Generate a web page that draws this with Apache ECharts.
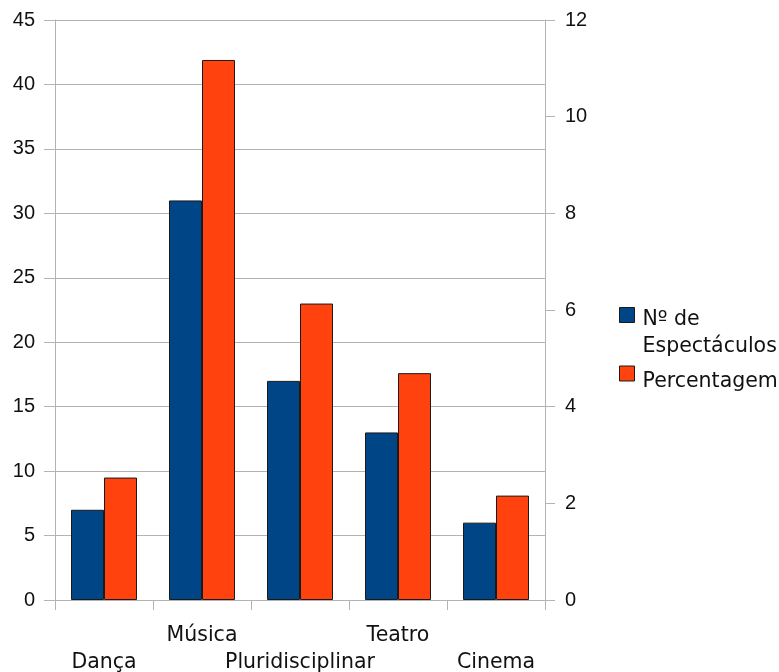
<!DOCTYPE html>
<html>
<head>
<meta charset="utf-8">
<script src="https://cdn.jsdelivr.net/npm/echarts@6/dist/echarts.min.js"></script>
<style>
  html, body { margin: 0; padding: 0; background: #fff; }
  #chart { width: 779px; height: 672px; }
</style>
</head>
<body>
<div id="chart"></div>
<script>
// Spectacles by genre: count and share of total
const categories = ['Dança', 'Música', 'Pluridisciplinar', 'Teatro', 'Cinema'];
const espectaculos = [7, 31, 17, 13, 6];
const percentagem = [9.5, 41.9, 23.0, 17.6, 8.1];
const leftTicks = { min: 0, max: 45, interval: 5 };
const rightTicks = { min: 0, max: 12, interval: 2 };
const seriesNames = ['Nº de Espectáculos', 'Percentagem'];

const GRAY = '#b3b3b3';
const NUM_FONT = '"Liberation Sans", Arial, sans-serif';
const TXT_FONT = '"DejaVu Sans", sans-serif';

const chart = echarts.init(document.getElementById('chart'), null, { renderer: 'canvas' });

// Legend entries: a blank spacer line on top lets the swatch sit beside the first text line
function legendLabel(name) {
  if (name === seriesNames[0]) {
    return '{s1| }\n{t|Nº de}\n{t|Espectáculos}';
  }
  return '{s2| }\n{t|' + name + '}';
}

chart.setOption({
  animation: false,
  grid: { left: 55, right: 234, top: 20, bottom: 72, containLabel: false, outerBoundsMode: 'none' },
  legend: {
    orient: 'vertical',
    left: 614,
    top: 278,
    itemWidth: 15,
    itemHeight: 15,
    itemGap: -2,
    icon: 'rect',
    data: seriesNames,
    itemStyle: { borderColor: '#1a1a1a', borderWidth: 1 },
    formatter: legendLabel,
    textStyle: {
      fontFamily: TXT_FONT,
      fontSize: 20.5,
      color: '#111',
      rich: {
        t: { fontFamily: TXT_FONT, fontSize: 20.5, color: '#111', lineHeight: 27, padding: [0, 0, 0, 3] },
        s1: { fontSize: 10, lineHeight: 36 },
        s2: { fontSize: 10, lineHeight: 16 }
      }
    }
  },
  xAxis: {
    type: 'category',
    data: categories,
    boundaryGap: true,
    axisLine: { show: true, lineStyle: { color: GRAY, width: 1 } },
    axisTick: { show: true, length: 10, lineStyle: { color: GRAY } },
    axisLabel: {
      interval: 0,
      margin: 22,
      fontFamily: TXT_FONT,
      fontSize: 20.5,
      color: '#111',
      lineHeight: 27,
      verticalAlign: 'top',
      formatter: function (value, index) {
        return index % 2 === 0 ? '\n' + value : value;
      }
    },
    splitLine: { show: false }
  },
  yAxis: [
    {
      type: 'value',
      position: 'left',
      min: leftTicks.min,
      max: leftTicks.max,
      interval: leftTicks.interval,
      axisLine: { show: true, lineStyle: { color: GRAY, width: 1 } },
      axisTick: { show: true, length: 11, lineStyle: { color: GRAY } },
      axisLabel: { margin: 20, fontFamily: NUM_FONT, fontSize: 20, color: '#111' },
      splitLine: { show: true, lineStyle: { color: GRAY, width: 1 } }
    },
    {
      type: 'value',
      position: 'right',
      min: rightTicks.min,
      max: rightTicks.max,
      interval: rightTicks.interval,
      axisLine: { show: true, lineStyle: { color: GRAY, width: 1 } },
      axisTick: { show: true, length: 10, lineStyle: { color: GRAY } },
      axisLabel: { margin: 20, fontFamily: NUM_FONT, fontSize: 20, color: '#111' },
      splitLine: { show: false }
    }
  ],
  series: [
    {
      name: seriesNames[0],
      type: 'bar',
      yAxisIndex: 0,
      data: espectaculos,
      barWidth: 33,
      barGap: '0%',
      itemStyle: { color: '#004586', borderColor: '#1a1a1a', borderWidth: 1 }
    },
    {
      name: seriesNames[1],
      type: 'bar',
      yAxisIndex: 0,
      data: percentagem,
      barWidth: 33,
      barGap: '0%',
      itemStyle: { color: '#ff420e', borderColor: '#1a1a1a', borderWidth: 1 }
    }
  ]
});
</script>
</body>
</html>
